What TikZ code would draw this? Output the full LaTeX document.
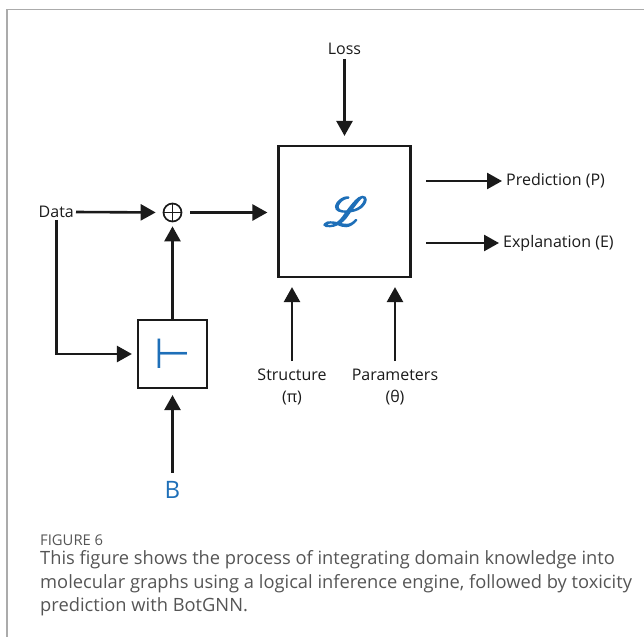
\documentclass[tikz,border=0pt]{standalone}
\usepackage{fontspec}
\setmainfont{Open Sans}
\newfontfamily\symfont{DejaVu Sans}
\usepackage{mathrsfs}
\usepackage{graphicx}
\usetikzlibrary{arrows.meta}

\definecolor{ink}{HTML}{1A1A1A}
\definecolor{inkblue}{HTML}{1E6FB8}
\definecolor{capgray}{HTML}{555555}
\definecolor{framegray}{HTML}{ABABAB}

% heavier script glyph: fill and stroke the outline
\newcommand{\heavyglyph}[1]{\special{pdf:literal direct 2 Tr 0.35 w}#1\special{pdf:literal direct 0 Tr}}

\tikzset{
  lbl/.style={text=ink, font=\fontsize{16}{22}\selectfont, inner sep=2pt},
  arr/.style={draw=ink, line width=2.6pt, -{Triangle[length=15pt,width=16pt]}},
  blockbox/.style={draw=ink, line width=2.2pt, fill=white},
}

\begin{document}
\begin{tikzpicture}[x=1pt,y=-1pt]
\useasboundingbox (0,0) rectangle (644,637);

% outer frame
\draw[framegray, line width=1.3pt] (644,9.5) -- (7,9.5) -- (7,637);

% main block with the loss
\node[blockbox, minimum width=132pt, minimum height=131pt] (L) at (344.5,211.5) {};
\node[text=inkblue, inner sep=0pt] (Lsym) at ([xshift=1pt]L.center) {\scalebox{4.1}{\heavyglyph{$\mathscr{L}$}}};

\node[lbl] (loss) at (344.5,49) {Loss};
\draw[arr, shorten <=2pt, shorten >=9pt] (loss.south) -- (L.north);

% outputs
\coordinate (pstart) at (426,181);
\coordinate (estart) at (426,243);
\node[lbl, anchor=west] (pred) at (504,181) {Prediction (P)};
\node[lbl, anchor=west] (expl) at (501,243) {Explanation (E)};
\draw[arr, shorten >=2pt] (pstart) -- (pred.west);
\draw[arr, shorten >=2pt] (estart) -- (expl.west);

% data input and combination
\node[lbl, anchor=east] (data) at (76,212) {Data};
\node[circle, draw=ink, line width=1.7pt, minimum size=18pt, inner sep=0pt] (plus) at (172.5,212.5) {};
\draw[ink, line width=1.7pt] (plus.north) -- (plus.south) (plus.west) -- (plus.east);
\draw[arr, shorten >=7pt] (data.east) -- (plus.west);
\draw[arr, shorten <=8pt, shorten >=10pt] (plus.east) -- (plus -| L.west);

% inference block
\node[blockbox, minimum width=69pt, minimum height=68pt] (gate) at (172.5,354) {};
\node[text=inkblue, font=\symfont\fontsize{42}{42}\selectfont] (turnstile) at (gate.center) {⊢};
\draw[arr, shorten >=5pt] (data.south) |- (gate.west);
\draw[arr, shorten >=4pt] (gate.north) -- (plus.south);

\node[text=inkblue, font=\fontsize{24}{24}\selectfont, anchor=base, inner sep=2pt] (bk) at (172.5,498) {B};
\draw[arr, shorten <=6pt, shorten >=6pt] (bk.north) -- (gate.south);

% structure and parameters
\node[lbl, align=center, anchor=north] (struct) at (292,367) {Structure\\(π)};
\node[lbl, align=center, anchor=north] (param) at (395,367) {Parameters\\(θ)};
\draw[arr, shorten <=6pt, shorten >=9pt] (struct.north) -- (struct.north |- L.south);
\draw[arr, shorten <=6pt, shorten >=9pt] (param.north) -- (param.north |- L.south);

% caption
\node[anchor=north west, text=capgray, font=\fontsize{14.8}{17}\selectfont, inner sep=0pt] (fig) at (40,535) {FIGURE 6};
\node[anchor=north west, text=capgray, font=\fontsize{18.3}{23.8}\selectfont, align=left, inner sep=0pt] (cap) at (40,550) {This figure shows the process of integrating domain knowledge into\\molecular graphs using a logical inference engine, followed by toxicity\\prediction with BotGNN.};
\end{tikzpicture}
\end{document}
